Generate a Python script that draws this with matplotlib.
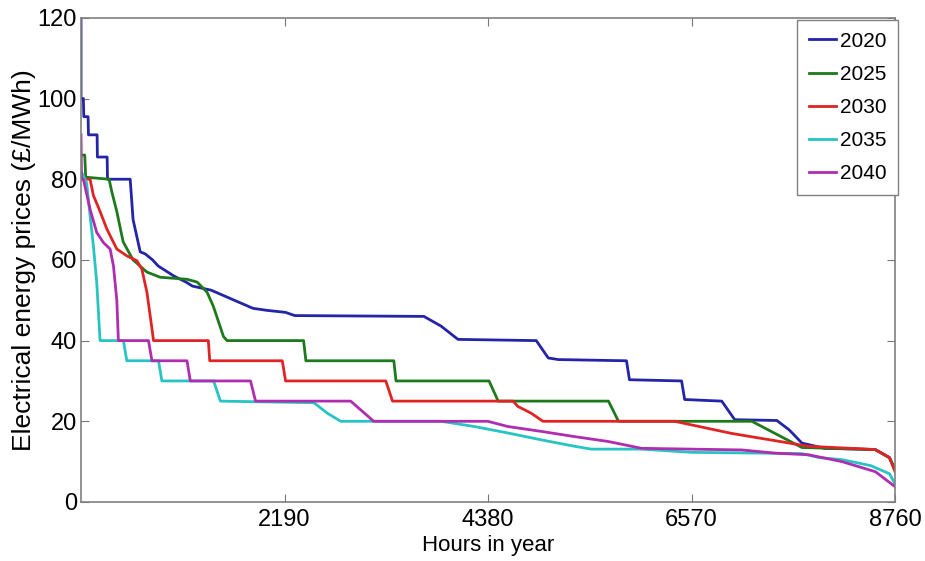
import matplotlib.pyplot as plt

# price duration curves (hours, £/MWh)
h2020 = [0, 0, 25, 30, 76, 80, 173, 176, 281, 285, 529, 560, 637, 690, 770, 830, 1000, 1130,
         1200, 1400, 1600, 1700, 1850, 2000, 2200, 2300, 3690, 3874, 4057, 4899, 5028, 5136,
         5870, 5902, 6463, 6496, 6895, 7035, 7488, 7620, 7758, 8000, 8546, 8700, 8760]
p2020 = [120, 100, 100, 95.5, 95.5, 91, 91, 85.5, 85.5, 80, 80, 70, 62, 61.5, 60, 58.5, 56, 54.5,
         53.5, 52.5, 50.5, 49.5, 48, 47.5, 47, 46.2, 46, 43.6, 40.3, 40, 35.7, 35.3,
         35, 30.3, 30, 25.4, 25, 20.4, 20.2, 17.9, 14.6, 13.3, 13, 11, 8]

h2025 = [0, 40, 50, 302, 330, 385, 453, 560, 708, 852, 1140, 1250, 1356, 1424, 1533, 1572,
         2395, 2420, 3366, 3390, 4391, 4489, 5676, 5784, 7219, 7758, 8546, 8700, 8760]
p2025 = [86, 86, 80.5, 80, 77, 72, 64.5, 60, 57, 55.7, 55.2, 54.5, 52, 48.5, 41, 40,
         40, 35, 35, 30, 30, 25, 25, 20, 20, 13.5, 13, 11, 8]

h2030 = [0, 97, 133, 205, 277, 385, 493, 601, 655, 709, 763, 780, 1370, 1385, 2166, 2201,
         3280, 3352, 4650, 4700, 4845, 4971, 6388, 7000, 7830, 8546, 8700, 8760]
p2030 = [80, 80, 76, 72, 67.7, 62.7, 61, 59.8, 57.7, 52, 43, 40, 40, 35, 35, 30,
         30, 25, 25, 23.7, 22, 20, 20, 17, 13.8, 13, 11, 7.5]

h2035 = [0, 43, 61, 97, 133, 169, 205, 456, 493, 834, 870, 1427, 1500, 2507, 2651, 2794,
         3874, 4233, 4594, 4952, 5312, 5492, 6032, 6571, 7758, 7941, 8190, 8500, 8700, 8760]
p2035 = [82, 80, 79, 71, 63.5, 54.4, 40, 40, 35, 35, 30, 30, 25, 24.6, 22, 20,
         20, 18.7, 17.1, 15.4, 13.8, 13.1, 13.1, 12.3, 12, 11, 10.5, 9, 7, 4.5]

h2040 = [0, 5, 25, 97, 169, 241, 313, 349, 385, 402, 726, 763, 1140, 1176, 1824, 1878,
         2902, 3150, 4377, 4594, 4952, 5312, 5672, 6032, 7111, 7471, 7830, 8190, 8549, 8760]
p2040 = [91, 80, 80, 72.6, 66.8, 64.3, 62.7, 58.5, 50, 40, 40, 35, 35, 30, 30, 25,
         25, 20, 20, 18.7, 17.5, 16.2, 15, 13.3, 12.9, 12.1, 11.7, 10, 7.5, 3.8]

series = [("2020", h2020, p2020, "#2424a8"),
          ("2025", h2025, p2025, "#1c7a1c"),
          ("2030", h2030, p2030, "#e02424"),
          ("2035", h2035, p2035, "#28c4c4"),
          ("2040", h2040, p2040, "#b02cb0")]

xticks = [2190, 4380, 6570, 8760]
yticks = [0, 20, 40, 60, 80, 100, 120]

font = ["Liberation Sans", "DejaVu Sans"]

fig = plt.figure(figsize=(9.25, 5.61), dpi=100)
ax = fig.add_axes([0.0876, 0.1052, 0.880, 0.863])

for name, h, p, c in series:
    ax.plot(h, p, color=c, lw=2.0, label=name)

ax.set_xlim(0, 8760)
ax.set_ylim(0, 120)
ax.set_xticks(xticks)
ax.set_yticks(yticks)
ax.tick_params(direction="in", top=True, right=True, length=6, color="#777777",
               labelsize=17, pad=5)
ax.tick_params(axis="y", pad=3)
for lab in ax.get_xticklabels() + ax.get_yticklabels():
    lab.set_family(font)
for s in ax.spines.values():
    s.set_color("#808080")
    s.set_linewidth(1.2)

ax.set_xlabel("Hours in year", family=font, fontsize=16, labelpad=3)
ax.set_ylabel("Electrical energy prices (\u00a3/MWh)", family=font,
              fontsize=19, labelpad=1)

leg = ax.legend(loc="upper right", bbox_to_anchor=(1.004, 0.995), fancybox=False,
                framealpha=1, edgecolor="#808080",
                handlelength=1.3, handletextpad=0.2, borderpad=0.55, labelspacing=0.68,
                borderaxespad=0.0, prop={"family": font, "size": 15})
leg.get_frame().set_linewidth(1.0)

fig.savefig("out.png", dpi=100)
